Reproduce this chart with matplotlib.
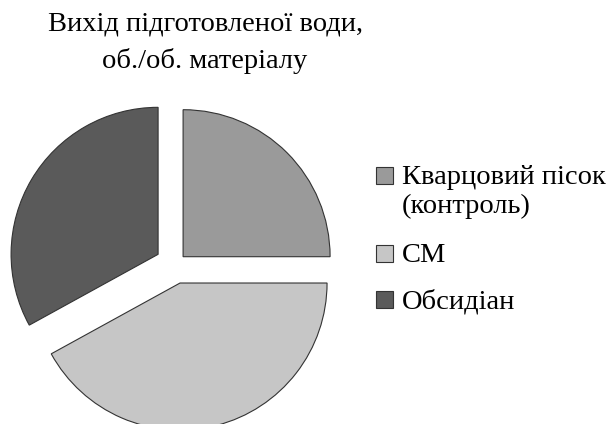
import matplotlib.pyplot as plt
from matplotlib.patches import Rectangle

plt.rcParams['font.family'] = ['Liberation Serif', 'DejaVu Serif']

# частки виходу підготовленої води
labels = ["Кварцовий пісок\n(контроль)", "СМ", "Обсидіан"]
values = [25, 42, 33]
colors = ["#9a9a9a", "#c6c6c6", "#5a5a5a"]
explode = [0.075, 0.13, 0.136]

title = "Вихід підготовленої води,\nоб./об. матеріалу"

W, H = 609, 424
fig = plt.figure(figsize=(W / 100, H / 100), dpi=100)
ax = fig.add_axes([0, 0, 1, 1])

ax.pie(values, colors=colors, explode=explode, startangle=90, counterclock=False,
       wedgeprops=dict(edgecolor="#333333", linewidth=0.8))

# pie centre and radius in pixels
cx, cy, r = 175.3, 264.5, 147.0
ax.set_xlim(-cx / r, (W - cx) / r)
ax.set_ylim(-(H - cy) / r, cy / r)
ax.set_aspect("equal")
ax.axis("off")

fs = 20.5

# title, one baseline per line
for i, line in enumerate(title.split("\n")):
    fig.text(205 / W, 1 - (30 + 38 * i) / H, line, ha="center", va="baseline",
             fontsize=fs)

# legend drawn by hand so the square sits on the first text line
sq = 17
ys = [184, 262, 308]  # baselines of first line of each entry
for lab, col, yb in zip(labels, colors, ys):
    fig.patches.append(Rectangle((376 / W, 1 - yb / H), sq / W, sq / H,
                                 transform=fig.transFigure, facecolor=col,
                                 edgecolor="#333333", linewidth=0.8))
    for i, line in enumerate(lab.split("\n")):
        fig.text(402 / W, 1 - (yb + 29 * i) / H, line, ha="left", va="baseline",
                 fontsize=fs)

fig.savefig("out.png", dpi=100)
